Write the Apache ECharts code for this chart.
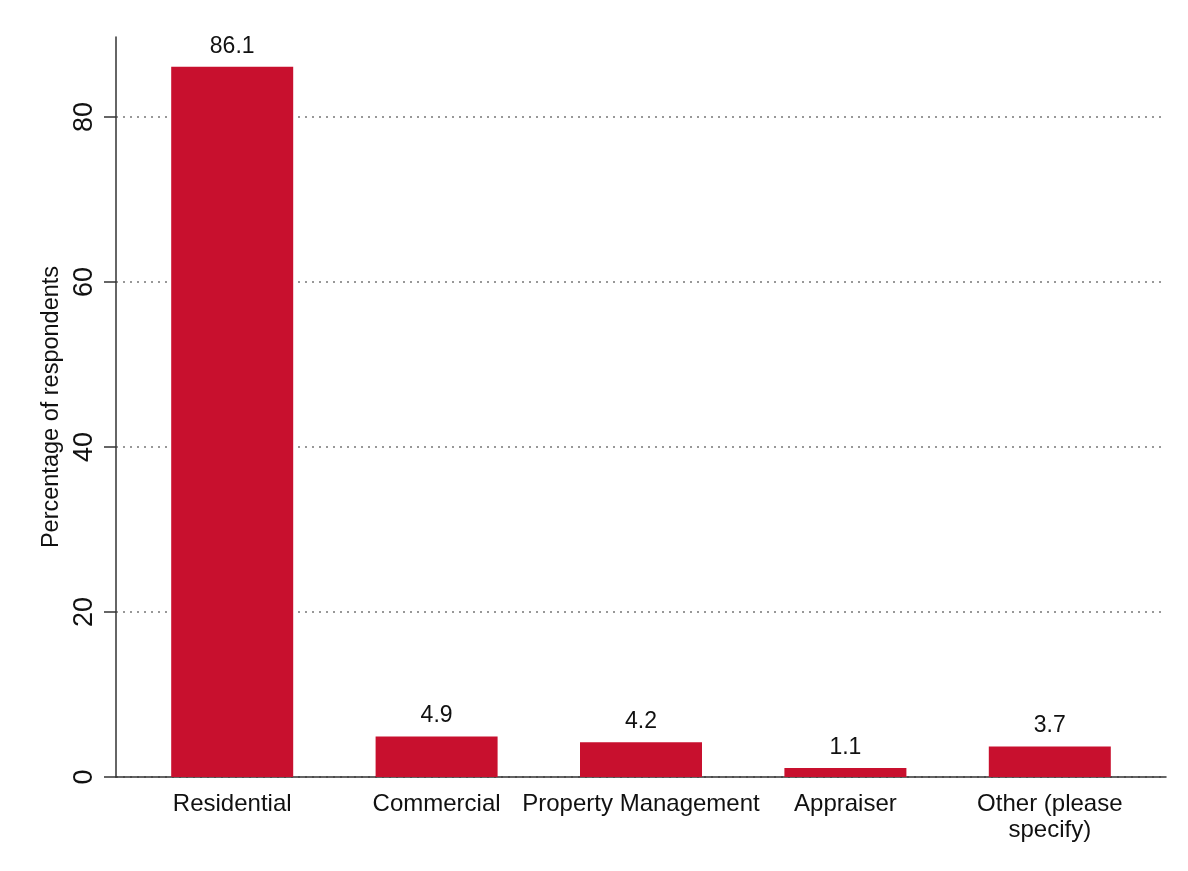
<!DOCTYPE html>
<html>
<head>
<meta charset="utf-8">
<script src="https://cdn.jsdelivr.net/npm/echarts@6/dist/echarts.min.js"></script>
<style>html,body{margin:0;padding:0;background:#fff}#c{width:1188px;height:871px}</style>
</head>
<body>
<div id="c"></div>
<script>
const categories = ['Residential', 'Commercial', 'Property Management', 'Appraiser', 'Other (please specify)'];
const values = [86.1, 4.9, 4.2, 1.1, 3.7];
const yTicks = [0, 20, 40, 60, 80];
const yTitle = 'Percentage of respondents';

const FONT = 'Liberation Sans, Arial, sans-serif';
const chart = echarts.init(document.getElementById('c'), null, {renderer: 'canvas'});
const yMax = 89.7;
chart.setOption({
  animation: false,
  backgroundColor: '#fff',
  grid: [
    {left: 116, right: 22, top: 37, bottom: 94},
    {left: 130, right: 36, top: 37, bottom: 94}
  ],
  xAxis: [
    {type: 'category', gridIndex: 0, data: categories, boundaryGap: true,
     axisLine: {show: true, lineStyle: {color: '#333', width: 1.5}},
     axisTick: {show: false}, axisLabel: {show: false}, splitLine: {show: false}},
    {type: 'category', gridIndex: 1, data: categories,
     axisLine: {show: false}, axisTick: {show: false},
     axisLabel: {show: true, interval: 0, margin: 14, fontFamily: FONT, fontSize: 24, color: '#111', lineHeight: 26,
       formatter: v => v === 'Other (please specify)' ? 'Other (please\nspecify)' : v}}
  ],
  yAxis: [
    {type: 'value', gridIndex: 0, min: 0, max: yMax, interval: 20,
     name: yTitle, nameLocation: 'middle', nameGap: 50, nameRotate: 90,
     nameTextStyle: {fontFamily: FONT, fontSize: 23.5, color: '#111'},
     axisLine: {show: true, lineStyle: {color: '#333', width: 1.5}},
     axisTick: {show: true, length: 12, customValues: yTicks, lineStyle: {color: '#333', width: 1.5}},
     axisLabel: {show: true, rotate: 90, margin: 18, fontFamily: FONT, fontSize: 27, color: '#111',
       customValues: yTicks},
     splitLine: {show: true, lineStyle: {color: '#777', width: 1.5, type: [2, 5]}}},
    {type: 'value', gridIndex: 1, min: 0, max: yMax, interval: 20, show: false, splitLine: {show: false}}
  ],
  series: [{
    type: 'bar', xAxisIndex: 1, yAxisIndex: 1, data: values, barWidth: 122,
    itemStyle: {color: '#c8102e'},
    label: {show: true, position: 'top', distance: 9, fontFamily: FONT, fontSize: 23, color: '#111',
      formatter: p => p.value.toFixed(1)}
  }]
});
</script>
</body>
</html>
